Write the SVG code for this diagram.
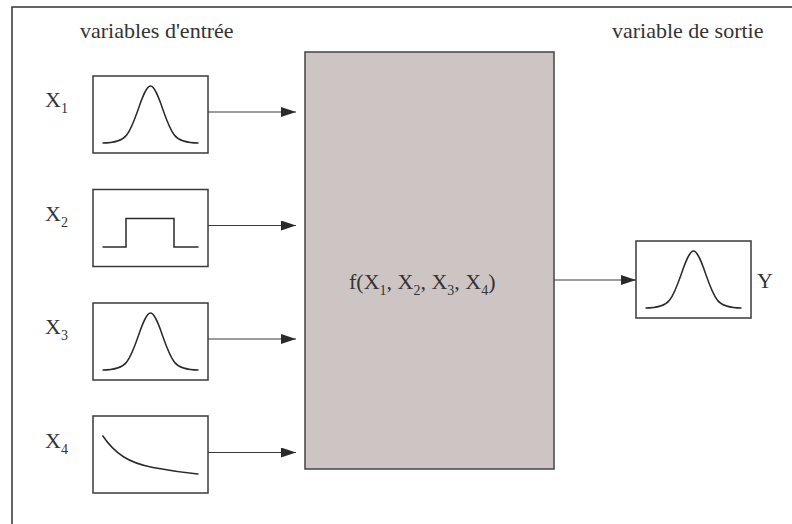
<svg xmlns="http://www.w3.org/2000/svg" width="792" height="524" viewBox="0 0 792 524">
<style>
text{font-family:"Liberation Serif","Times New Roman",serif;fill:#333;font-size:22px}
.sub{font-size:14px}
.box{fill:#fff;stroke:#3a3a3a;stroke-width:1.5}
.curve{fill:none;stroke:#2a2a2a;stroke-width:1.5}
.conn{fill:none;stroke:#3a3a3a;stroke-width:1.2}
</style>
<defs>
<marker id="ah" viewBox="0 0 15 10" refX="15" refY="5" markerWidth="15" markerHeight="10" markerUnits="userSpaceOnUse" orient="auto">
<path d="M0,0 L15,5 L0,10 Z" fill="#2a2a2a"/>
</marker>
<path id="gauss" d="M9.5,67 C19.5,67 29.5,64.43 33.5,59.29 C37.5,54.15 41.5,43.95 45.5,32.43 C49.5,20.9 53.5,10 57.5,10 C61.5,10 65.5,20.9 69.5,32.43 C73.5,43.95 77.5,54.15 81.5,59.29 C85.5,64.43 95.5,67 105.5,67"/>
</defs>
<rect width="792" height="524" fill="#fff"/>
<path d="M12,524 V7 H792" fill="none" stroke="#333" stroke-width="1.5"/>
<text x="80" y="38">variables d'entrée</text>
<text x="612" y="38">variable de sortie</text>

<g id="x1">
<text x="45" y="107">X<tspan class="sub" dy="6">1</tspan></text>
<rect class="box" x="93" y="76" width="115" height="77"/>
<use href="#gauss" class="curve" transform="translate(93,76)"/>
</g>
<g id="x2">
<text x="45" y="220.5">X<tspan class="sub" dy="6">2</tspan></text>
<rect class="box" x="93" y="189.5" width="115" height="77"/>
<path class="curve" transform="translate(93,189.5)" d="M9.5,57.5 H33 V29 H81 V57.5 H105.5"/>
</g>
<g id="x3">
<text x="45" y="334">X<tspan class="sub" dy="6">3</tspan></text>
<rect class="box" x="93" y="303" width="115" height="77"/>
<use href="#gauss" class="curve" transform="translate(93,303)"/>
</g>
<g id="x4">
<text x="45" y="447.5">X<tspan class="sub" dy="6">4</tspan></text>
<rect class="box" x="93" y="416" width="115" height="77"/>
<path class="curve" transform="translate(93,416)" d="M9.5,19.5 C22,38 36,47 60,51.5 S95,57 105.5,58"/>
</g>
<g id="f">
<rect x="305" y="52" width="249" height="417" fill="#cdc5c3" stroke="#444" stroke-width="1.5"/>
<text x="349" y="289">f(X<tspan class="sub" dy="6">1</tspan><tspan dy="-6">, X</tspan><tspan class="sub" dy="6">2</tspan><tspan dy="-6">, X</tspan><tspan class="sub" dy="6">3</tspan><tspan dy="-6">, X</tspan><tspan class="sub" dy="6">4</tspan><tspan dy="-6">)</tspan></text>
</g>
<g id="y">
<rect class="box" x="636" y="241" width="115" height="77"/>
<use href="#gauss" class="curve" transform="translate(636,241)"/>
<text x="757" y="288">Y</text>
</g>
<g id="connectors">
<path class="conn" d="M208,112 H296" marker-end="url(#ah)"/>
<path class="conn" d="M208,225.5 H296" marker-end="url(#ah)"/>
<path class="conn" d="M208,339 H296" marker-end="url(#ah)"/>
<path class="conn" d="M208,452.5 H296" marker-end="url(#ah)"/>
<path class="conn" d="M554,280 H636" marker-end="url(#ah)"/>
</g>
</svg>
